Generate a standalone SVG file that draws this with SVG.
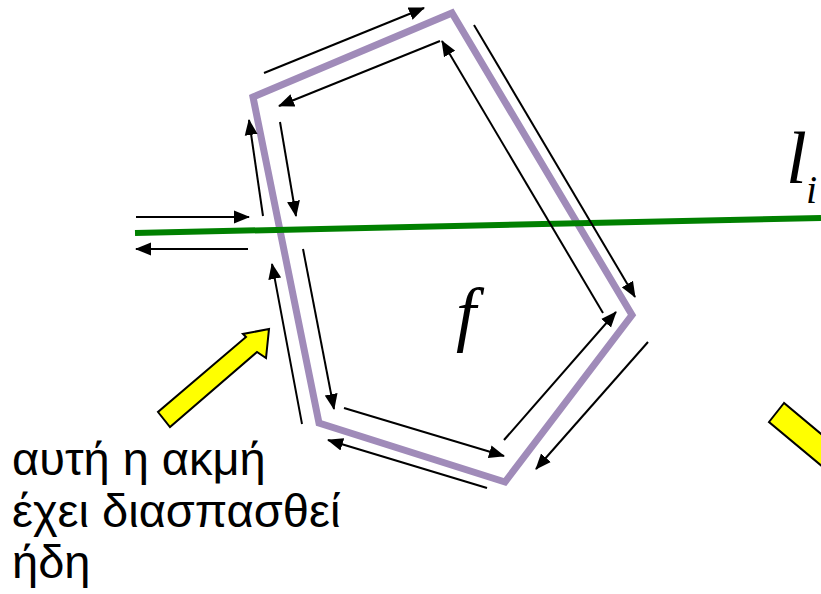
<svg xmlns="http://www.w3.org/2000/svg" width="821" height="594" viewBox="0 0 821 594">
<style>
.he{stroke:#000;stroke-width:2;fill:none;marker-end:url(#ah)}
.yl{fill:#ffff00;stroke:#000;stroke-width:2;stroke-linejoin:miter}
.gk{font-family:"Liberation Sans",Arial,sans-serif;font-size:47px;fill:#000}
.mt{font-family:"Liberation Serif","Times New Roman",serif;font-style:italic;fill:#000}
</style>
<defs>
<marker id="ah" markerUnits="userSpaceOnUse" markerWidth="16" markerHeight="14" refX="15" refY="6.5" orient="auto" viewBox="0 0 16 13">
<path d="M0,0 L16,6.5 L0,13 z" fill="#000"/>
</marker>
</defs>
<rect width="821" height="594" fill="#fff"/>
<g id="face">
<polygon points="253,97 452,13 632,315 505,482 319,423" fill="none" stroke="#a08bb9" stroke-width="7" stroke-linejoin="miter"/>
</g>
<g id="line-li">
<line x1="135" y1="233" x2="821" y2="218" stroke="#008000" stroke-width="6"/>
</g>
<g id="connectors">
<line class="he" x1="264" y1="73" x2="424" y2="8"/>
<line class="he" x1="440" y1="41" x2="279" y2="106"/>
<line class="he" x1="263" y1="216" x2="249" y2="120"/>
<line class="he" x1="280" y1="122" x2="296" y2="216"/>
<line class="he" x1="136" y1="217" x2="249" y2="217"/>
<line class="he" x1="248" y1="249" x2="136" y2="249"/>
<line class="he" x1="302" y1="424" x2="272" y2="264"/>
<line class="he" x1="303" y1="249" x2="334" y2="409"/>
<line class="he" x1="344" y1="408" x2="504" y2="456"/>
<line class="he" x1="487" y1="488" x2="328" y2="440"/>
<line class="he" x1="504" y1="440" x2="616" y2="312"/>
<line class="he" x1="648" y1="342" x2="536" y2="469"/>
<line class="he" x1="474" y1="25" x2="635" y2="297"/>
<line class="he" x1="603" y1="313" x2="442" y2="41"/>
</g>
<g id="label-f">
<text class="mt" x="466" y="338" font-size="72" text-anchor="middle">f</text>
</g>
<g id="label-li">
<text class="mt" x="786" y="183" font-size="75">l</text>
<text class="mt" x="806" y="203" font-size="40">i</text>
</g>
<g id="pointer-left">
<polygon class="yl" points="158,412 170,427 257,352 266,358 269,329 243,334 246,337"/>
</g>
<g id="pointer-right">
<polygon class="yl" points="784,403 769,422 835,477 850,458"/>
</g>
<g id="note">
<text class="gk" x="12" y="475">αυτή η ακμή</text>
<text class="gk" x="12" y="527">έχει διασπασθεί</text>
<text class="gk" x="12" y="578">ήδη</text>
</g>
</svg>
